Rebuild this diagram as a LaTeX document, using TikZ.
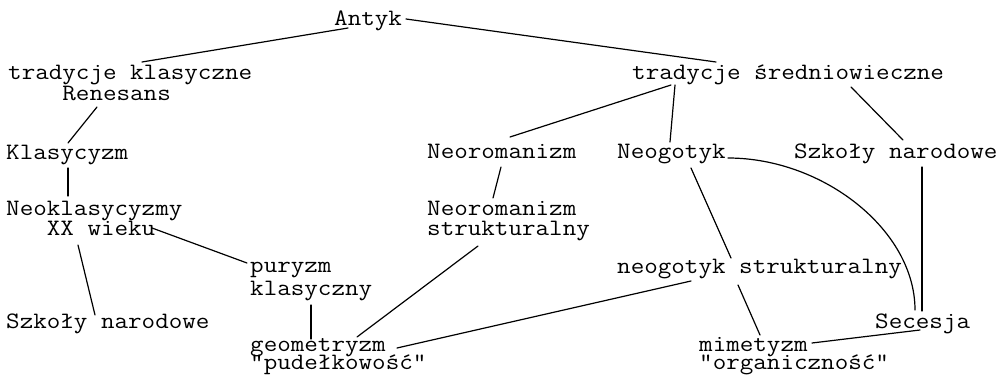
\documentclass[tikz,border=0pt]{standalone}
\usepackage{fontspec}
\setmonofont{Latin Modern Mono}[FakeStretch=1.12]
\setlength{\lineskiplimit}{-40pt}
\begin{document}
\begin{tikzpicture}[x=1pt,y=-1pt,
  lbl/.style={font=\ttfamily\fontsize{23.5}{20}\selectfont,
    align=left, inner sep=0pt, anchor=base west},
  conn/.style={line width=1.2pt, line cap=round}]
\useasboundingbox (0,0) rectangle (998,377);
% nodes
\node[lbl] (antyk) at (334,26) {Antyk};
\node[lbl, font=\ttfamily\fontsize{23.5}{21}\selectfont] (tk) at (8,101) {tradycje klasyczne\\\phantom{xxxx}Renesans};
\node[lbl] (klas) at (6,160) {Klasycyzm};
\node[lbl] (neokl) at (6,235) {Neoklasycyzmy\\\phantom{xxx}XX wieku};
\node[lbl] (szl) at (6,328) {Szkoły narodowe};
\node[lbl, font=\ttfamily\fontsize{23.5}{23}\selectfont] (pur) at (250,295) {puryzm\\klasyczny};
\node[lbl, font=\ttfamily\fontsize{23.5}{17.5}\selectfont] (geo) at (250,369) {geometryzm\\"pudełkowość"};
\node[lbl] (neor) at (427,158) {Neoromanizm};
\node[lbl] (neors) at (427,235) {Neoromanizm\\strukturalny};
\node[lbl] (ts) at (632,80) {tradycje średniowieczne};
\node[lbl] (neog) at (617,158) {Neogotyk};
\node[lbl] (szr) at (794,158) {Szkoły narodowe};
\node[lbl] (ngs) at (617,273) {neogotyk strukturalny};
\node[lbl, font=\ttfamily\fontsize{23.5}{17.5}\selectfont] (mim) at (699,369) {mimetyzm\\"organiczność"};
\node[lbl] (sec) at (875,328) {Secesja};
% connectors
\draw[conn] ([shift={(14,2)}]antyk.base west) -- ([shift={(134,-39)}]tk.base west);
\draw[conn] ([shift={(72,-7)}]antyk.base west) -- ([shift={(84,-18)}]ts.base west);
\draw[conn] ([shift={(89,6)}]tk.base west) -- ([shift={(62,-17)}]klas.base west);
\draw[conn] ([shift={(62,8)}]klas.base west) -- ([shift={(62,-39)}]neokl.base west);
\draw[conn] ([shift={(146,-7)}]neokl.base west) -- ([shift={(-3,-32)}]pur.base west);
\draw[conn] ([shift={(72,10)}]neokl.base west) -- ([shift={(89,-13)}]szl.base west);
\draw[conn] ([shift={(61,10)}]pur.base west) -- ([shift={(61,-30)}]geo.base west);
\draw[conn] ([shift={(107,-32)}]geo.base west) -- ([shift={(51,11)}]neors.base west);
\draw[conn] ([shift={(147,-21)}]geo.base west) -- ([shift={(74,8)}]ngs.base west);
\draw[conn] ([shift={(39,5)}]ts.base west) -- ([shift={(83,-21)}]neor.base west);
\draw[conn] ([shift={(43,5)}]ts.base west) -- ([shift={(53,-16)}]neog.base west);
\draw[conn] ([shift={(219,7)}]ts.base west) -- ([shift={(109,-18)}]szr.base west);
\draw[conn] ([shift={(74,9)}]neor.base west) -- ([shift={(66,-37)}]neors.base west);
\draw[conn] ([shift={(111,0)}]neog.base west) .. controls +(95,0) and +(0,-80) .. ([shift={(40,-18)}]sec.base west);
\draw[conn] ([shift={(128,9)}]szr.base west) -- ([shift={(47,-17)}]sec.base west);
\draw[conn] ([shift={(74,10)}]neog.base west) -- ([shift={(114,-15)}]ngs.base west);
\draw[conn] ([shift={(121,12)}]ngs.base west) -- ([shift={(61,-34)}]mim.base west);
\draw[conn] ([shift={(113,-26)}]mim.base west) -- ([shift={(45,2)}]sec.base west);
\end{tikzpicture}
\end{document}
